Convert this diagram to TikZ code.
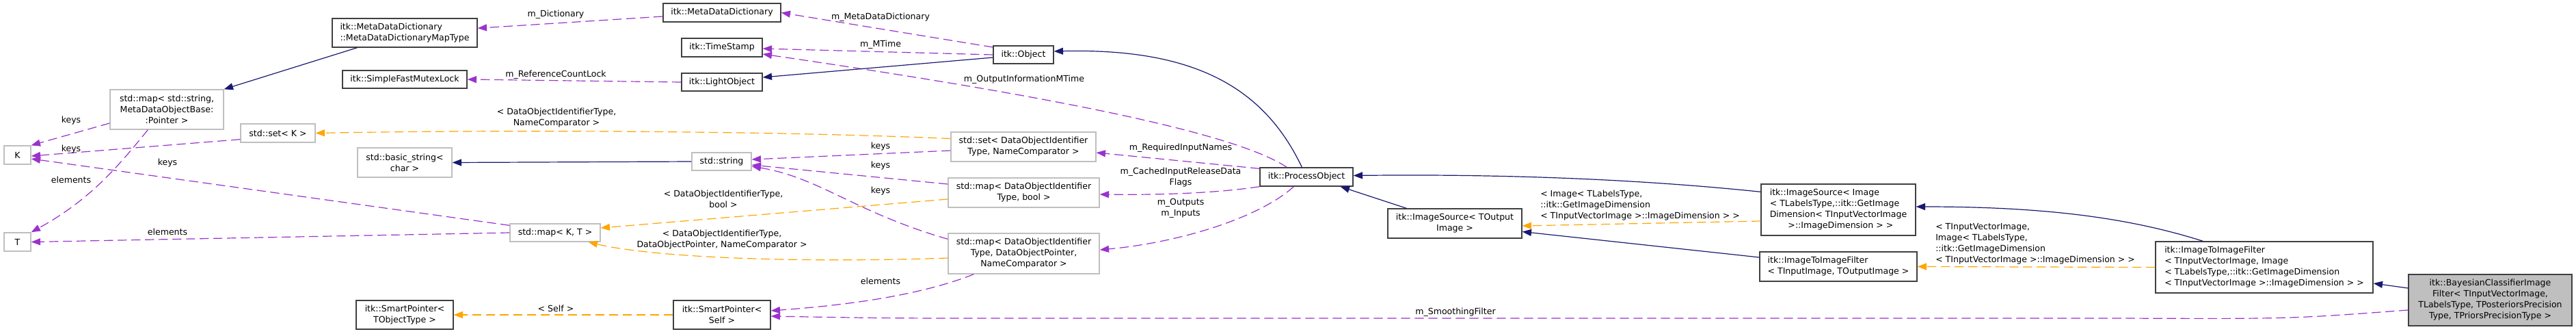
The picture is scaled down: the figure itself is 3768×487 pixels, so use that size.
\documentclass[tikz,border=0pt]{standalone}
\usepackage{fontspec}
\setmainfont{DejaVu Sans}
\usetikzlibrary{arrows.meta,calc}
\definecolor{navy}{HTML}{191970}
\definecolor{orch}{HTML}{9A32CD}
\definecolor{orng}{HTML}{FFA500}
\definecolor{gb}{HTML}{BFBFBF}
\definecolor{db}{HTML}{404040}
\begin{document}
\begin{tikzpicture}[x=0.75pt,y=-0.75pt,font=\fontsize{9.4}{12}\selectfont,
  bx/.style={draw=db,line width=1pt,fill=white,inner sep=1pt,align=center},
  gx/.style={draw=gb,line width=1pt,fill=white,inner sep=1pt,align=center},
  inh/.style={draw=navy,line width=0.9pt,-{Triangle[length=10pt,width=7.5pt]}},
  mem/.style={draw=orch,line width=0.9pt,dash pattern=on 10pt off 5pt,-{Triangle[length=10pt,width=7.5pt]}},
  tpl/.style={draw=orng,line width=0.9pt,dash pattern=on 10pt off 5pt,-{Triangle[length=10pt,width=7.5pt]}},
  lbl/.style={inner sep=0pt,align=center}]
\useasboundingbox (0,0) rectangle (3768,487);

% nodes
\node[gx,minimum width=166*0.75pt,minimum height=58*0.75pt] (mapS) at (244,160) {std::map< std::string,\\ MetaDataObjectBase:\\:Pointer >};
\node[gx,minimum width=109*0.75pt,minimum height=27*0.75pt] (setK) at (406.5,194.5) {std::set< K >};
\node[gx,minimum width=39*0.75pt,minimum height=27*0.75pt] (K) at (25.5,226.5) {K};
\node[gx,minimum width=39*0.75pt,minimum height=27*0.75pt] (T) at (25.5,353.5) {T};
\node[bx,align=left,minimum width=212*0.75pt,minimum height=42*0.75pt] (mapType) at (592,48) {itk::MetaDataDictionary\\::MetaDataDictionaryMapType};
\node[bx,minimum width=182*0.75pt,minimum height=26*0.75pt] (mutex) at (592,116) {itk::SimpleFastMutexLock};
\node[gx,minimum width=138*0.75pt,minimum height=43*0.75pt] (bstr) at (592,237.5) {std::basic\_string<\\char >};
\node[gx,minimum width=132*0.75pt,minimum height=26*0.75pt] (mapKT) at (812,340) {std::map< K, T >};
\node[bx,minimum width=142*0.75pt,minimum height=42*0.75pt] (spT) at (592,460) {itk::SmartPointer<\\TObjectType >};
\node[bx,minimum width=172*0.75pt,minimum height=27*0.75pt] (mdd) at (1056,18.5) {itk::MetaDataDictionary};
\node[bx,minimum width=118*0.75pt,minimum height=27*0.75pt] (ts) at (1056,69.5) {itk::TimeStamp};
\node[bx,minimum width=118*0.75pt,minimum height=26*0.75pt] (lo) at (1056,120) {itk::LightObject};
\node[gx,minimum width=87*0.75pt,minimum height=26*0.75pt] (str) at (1055.5,236) {std::string};
\node[gx,minimum width=212*0.75pt,minimum height=43*0.75pt] (setD) at (1497,214.5) {std::set< DataObjectIdentifier\\Type, NameComparator >};
\node[gx,minimum width=221*0.75pt,minimum height=43*0.75pt] (mapB) at (1497.5,281.5) {std::map< DataObjectIdentifier\\Type, bool >};
\node[gx,minimum width=221*0.75pt,minimum height=59*0.75pt] (mapP) at (1497.5,370.5) {std::map< DataObjectIdentifier\\Type, DataObjectPointer,\\NameComparator >};
\node[bx,minimum width=142*0.75pt,minimum height=42*0.75pt] (spS) at (1056,460) {itk::SmartPointer<\\Self >};
\node[bx,minimum width=88*0.75pt,minimum height=26*0.75pt] (obj) at (1497,80) {itk::Object};
\node[bx,minimum width=136*0.75pt,minimum height=27*0.75pt] (po) at (1911,258.5) {itk::ProcessObject};
\node[bx,minimum width=196*0.75pt,minimum height=43*0.75pt] (isT) at (2128,326.5) {itk::ImageSource< TOutput\\Image >};
\node[bx,align=left,minimum width=226*0.75pt,minimum height=75*0.75pt] (isI) at (2689,306.5) {itk::ImageSource< Image\\< TLabelsType,::itk::GetImage\\Dimension< TInputVectorImage\\\hspace*{20pt}>::ImageDimension > >};
\node[bx,align=left,minimum width=230*0.75pt,minimum height=43*0.75pt] (itiT) at (2689,389.5) {itk::ImageToImageFilter\\< TInputImage, TOutputImage >};
\node[bx,align=left,minimum width=318*0.75pt,minimum height=75*0.75pt] (itiV) at (3312,390.5) {itk::ImageToImageFilter\\< TInputVectorImage, Image\\< TLabelsType,::itk::GetImageDimension\\< TInputVectorImage >::ImageDimension > >};
\node[bx,fill=gb,minimum width=239*0.75pt,minimum height=75*0.75pt] (bay) at (3642.5,438.5) {itk::BayesianClassifierImage\\Filter< TInputVectorImage,\\ TLabelsType, TPosteriorsPrecision\\Type, TPriorsPrecisionType >};

% edges
\draw[inh] (mapType) -- (mapS.north east);
\draw[mem] (mdd) -- (mapType);
\node[lbl] (l1) at (813,21) {m\_Dictionary};
\draw[mem] ($(obj.west)+(0,-11)$) -- (mdd.east);
\node[lbl] (l2) at (1288,25) {m\_MetaDataDictionary};
\draw[mem] (obj.west) -- ($(ts.east)+(0,1.5)$);
\node[lbl] (l3) at (1288,65) {m\_MTime};
\draw[mem] ($(po.north west)+(40,0)$) .. controls (1800,190) and (1500,135) .. ($(ts.east)+(0,9.5)$);
\node[lbl] (l4) at (1498,116) {m\_OutputInformationMTime};
\draw[inh] ($(obj.west)+(0,4)$) -- ($(lo.east)+(0,-7)$);
\draw[mem] (lo.west) -- (mutex.east);
\node[lbl] (l5) at (813,109) {m\_ReferenceCountLock};
\draw[mem] ($(setK.south west)+(0,-5)$) -- ($(K.east)+(0,1.5)$);
\node[lbl] (l6) at (104,218) {keys};
\draw[mem] ($(mapS.west)+(0,20)$) -- (K.north east);
\node[lbl] (l7) at (104,176) {keys};
\draw[mem] ($(mapS.south west)+(56,0)$) .. controls (175,240) and (135,290) .. (T.north east);
\node[lbl] (l8) at (104,263) {elements};
\draw[mem] ($(mapKT.north west)+(0,3)$) -- ($(K.east)+(0,5.5)$);
\node[lbl] (l9) at (245,238) {keys};
\draw[mem] (mapKT.west) -- (T.east);
\node[lbl] (l10) at (245,339) {elements};
\draw[tpl] ($(setD.west)+(0,-12)$) .. controls (1100,190) and (700,190) .. (setK.east);
\node[lbl] (l11) at (814,172) {< DataObjectIdentifierType,\\NameComparator >};
\draw[inh] (str.west) -- (bstr.east);
\draw[mem] ($(setD.west)+(0,5.5)$) -- ($(str.east)+(0,-3)$);
\node[lbl] (l12) at (1288,214) {keys};
\draw[mem] ($(mapB.west)+(0,-12.5)$) -- ($(str.east)+(0,5)$);
\node[lbl] (l13) at (1288,242) {keys};
\draw[mem] ($(mapP.north west)+(0,9)$) .. controls (1250,310) and (1200,260) .. ($(str.east)+(0,7)$);
\node[lbl] (l14) at (1288,279) {keys};
\draw[tpl] ($(mapB.west)+(0,9.5)$) -- ($(mapKT.east)+(0,-7)$);
\node[lbl] (l15) at (1058,291) {< DataObjectIdentifierType,\\bool >};
\draw[tpl] ($(mapP.west)+(0,6.5)$) .. controls (1150,385) and (950,375) .. ($(mapKT.south east)+(-18,0)$);
\node[lbl] (l16) at (1056,350) {< DataObjectIdentifierType,\\DataObjectPointer, NameComparator >};
\draw[mem] ($(mapP.south west)+(38,0)$) .. controls (1350,430) and (1250,445) .. ($(spS.east)+(0,-6)$);
\node[lbl] (l17) at (1288,411) {elements};
\draw[tpl] (spS.west) -- (spT.east);
\node[lbl] (l18) at (813,451) {< Self >};
\draw[inh] ($(po.north west)+(62,0)$) .. controls (1850,130) and (1750,70) .. ($(obj.east)+(0,-5)$);
\draw[mem] ($(po.north west)+(0,2)$) -- ($(setD.east)+(0,8.5)$);
\node[lbl] (l19) at (1727,216) {m\_RequiredInputNames};
\draw[mem] (po.south west) .. controls (1780,282) and (1700,285) .. ($(mapB.east)+(0,2.5)$);
\node[lbl] (l20) at (1727,259) {m\_CachedInputReleaseData\\Flags};
\draw[mem] ($(po.south west)+(50,0)$) .. controls (1840,320) and (1720,355) .. ($(mapP.east)+(0,-5.5)$);
\node[lbl] (l21) at (1727,304) {m\_Outputs\\m\_Inputs};
\draw[inh] ($(isT.north west)+(28,0)$) -- ($(po.south east)+(-19,0)$);
\draw[inh] ($(isI.north west)+(0,12)$) .. controls (2400,262) and (2200,254) .. ($(po.east)+(0,-2)$);
\draw[tpl] ($(isI.west)+(0,16.5)$) -- ($(isT.east)+(0,3.5)$);
\node[lbl,align=left] (l22) at (2399,300) { < Image< TLabelsType,\\::itk::GetImageDimension\\< TInputVectorImage >::ImageDimension > >};
\draw[inh] ($(itiT.west)+(0,-13.5)$) -- ($(isT.east)+(0,12)$);
\draw[inh] ($(itiV.north west)+(70,0)$) .. controls (3120,320) and (3000,302) .. ($(isI.east)+(0,-4.5)$);
\draw[tpl] (itiV.west) -- (itiT.east);
\node[lbl,align=left] (l23) at (2977,356.5) { < TInputVectorImage,\\ Image< TLabelsType,\\::itk::GetImageDimension\\< TInputVectorImage >::ImageDimension > >};
\draw[inh] ($(bay.west)+(0,-17.5)$) -- ($(itiV.east)+(0,23.5)$);
\draw[mem] ($(bay.west)+(0,14.5)$) .. controls (3350,466) .. (3100,465) -- (1500,465) .. controls (1300,465) .. ($(spS.east)+(0,2)$);
\node[lbl] (l24) at (2129,456) {m\_SmoothingFilter};
\end{tikzpicture}
\end{document}
